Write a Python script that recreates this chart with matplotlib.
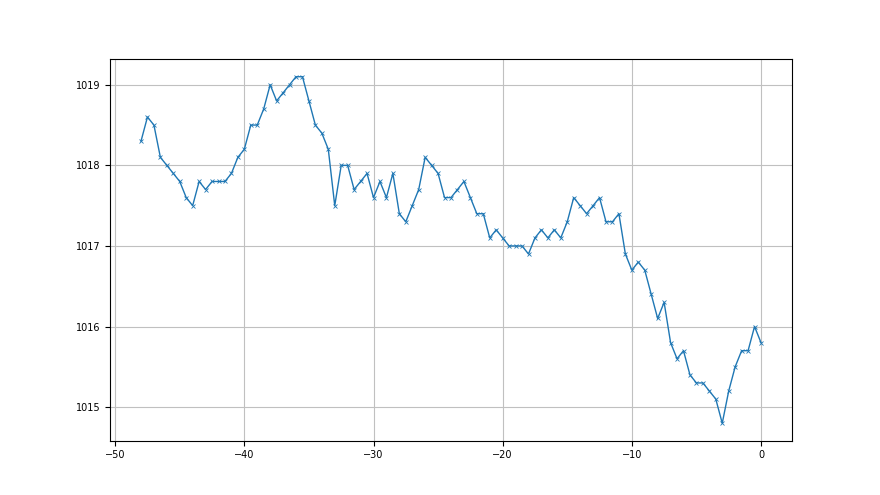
import numpy as np
import matplotlib
matplotlib.use("Agg")
import matplotlib.pyplot as plt

hours = [-48 + 0.5 * i for i in range(97)]
pressure = [
    1018.3, 1018.6, 1018.5, 1018.1, 1018.0, 1017.9, 1017.8, 1017.6, 1017.5, 1017.8,
    1017.7, 1017.8, 1017.8, 1017.8, 1017.9, 1018.1, 1018.2, 1018.5, 1018.5, 1018.7,
    1019.0, 1018.8, 1018.9, 1019.0, 1019.1, 1019.1, 1018.8, 1018.5, 1018.4, 1018.2,
    1017.5, 1018.0, 1018.0, 1017.7, 1017.8, 1017.9, 1017.6, 1017.8, 1017.6, 1017.9,
    1017.4, 1017.3, 1017.5, 1017.7, 1018.1, 1018.0, 1017.9, 1017.6, 1017.6, 1017.7,
    1017.8, 1017.6, 1017.4, 1017.4, 1017.1, 1017.2, 1017.1, 1017.0, 1017.0, 1017.0,
    1016.9, 1017.1, 1017.2, 1017.1, 1017.2, 1017.1, 1017.3, 1017.6, 1017.5, 1017.4,
    1017.5, 1017.6, 1017.3, 1017.3, 1017.4, 1016.9, 1016.7, 1016.8, 1016.7, 1016.4,
    1016.1, 1016.3, 1015.8, 1015.6, 1015.7, 1015.4, 1015.3, 1015.3, 1015.2, 1015.1,
    1014.8, 1015.2, 1015.5, 1015.7, 1015.7, 1016.0, 1015.8,
]

fig, ax = plt.subplots(figsize=(8.8, 4.95), dpi=100)
ax.plot(hours, pressure, marker='x', color='#1f77b4', linewidth=1.0, markersize=3.5, markeredgewidth=0.6)
ax.grid(True, color='#c0c0c0', linewidth=0.8)
ax.tick_params(labelsize=7)
ax.ticklabel_format(useOffset=False, style='plain', axis='y')
fig.savefig("out.png", dpi=100)
